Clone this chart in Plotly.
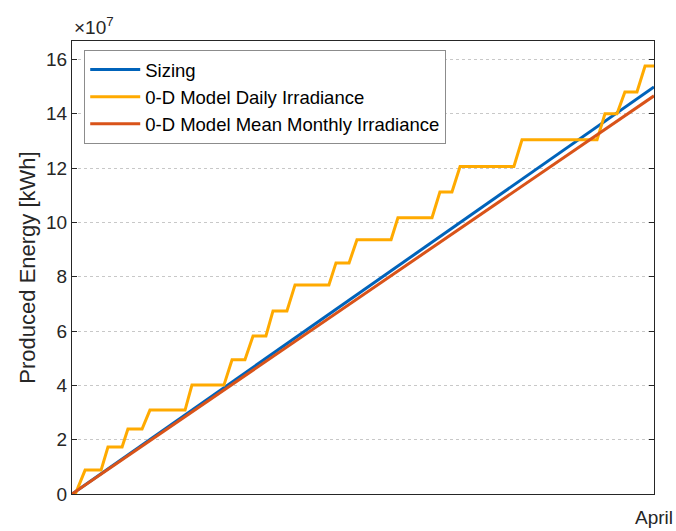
import plotly.graph_objects as go

# x in days across the month shown; y in units of 1e7 kWh
sizing_x = [0, 28]
sizing_y = [0, 14.99]

monthly_x = [0, 28]
monthly_y = [0, 14.66]

daily_x = [0, 0.19, 0.63, 1.40, 1.73, 2.41, 2.69, 3.37, 3.75, 5.44, 5.77, 7.31, 7.70,
           8.32, 8.71, 9.33, 9.67, 10.34, 10.73, 12.36, 12.70, 13.33, 13.71, 15.35,
           15.68, 17.32, 17.70, 18.28, 18.67, 21.26, 21.65, 25.26, 25.64, 26.22,
           26.60, 27.18, 27.57, 28.0]
daily_y = [0, 0.05, 0.88, 0.88, 1.73, 1.73, 2.39, 2.39, 3.09, 3.09, 4.01, 4.01, 4.94,
           4.94, 5.82, 5.82, 6.74, 6.74, 7.70, 7.70, 8.51, 8.51, 9.36, 9.36,
           10.17, 10.17, 11.12, 11.12, 12.06, 12.06, 13.04, 13.04, 14.0, 14.0,
           14.8, 14.8, 15.76, 15.76]

y_ticks = [0, 2, 4, 6, 8, 10, 12, 14, 16]
x_tick_vals = [28]
x_tick_text = ["April"]

FONT = "Liberation Sans, Arial, sans-serif"

fig = go.Figure()
fig.add_trace(go.Scatter(x=sizing_x, y=sizing_y, mode="lines", name="Sizing",
                         line=dict(color="#0063BA", width=3)))
fig.add_trace(go.Scatter(x=daily_x, y=daily_y, mode="lines", name="0-D Model Daily Irradiance",
                         line=dict(color="#FFAA00", width=3)))
fig.add_trace(go.Scatter(x=monthly_x, y=monthly_y, mode="lines", name="0-D Model Mean Monthly Irradiance",
                         line=dict(color="#D95319", width=3)))

fig.update_layout(
    width=676, height=531,
    margin=dict(l=72, r=22, t=41, b=37, autoexpand=False),
    paper_bgcolor="white", plot_bgcolor="white",
    font=dict(family=FONT, size=19, color="#262626"),
    showlegend=True,
    legend=dict(x=0.021, y=0.98, xanchor="left", yanchor="top",
                bgcolor="white", bordercolor="#8c8c8c", borderwidth=1,
                font=dict(size=18.5, color="#000000"), tracegroupgap=0,
                itemwidth=50),
    xaxis=dict(range=[0, 28], tickvals=x_tick_vals, ticktext=x_tick_text,
               ticks="inside", ticklen=5, tickcolor="#262626", automargin=False,
               ticklabelstandoff=6,
               showline=True, linecolor="#262626", linewidth=1, mirror="ticks",
               showgrid=False, zeroline=False, tickfont=dict(size=19)),
    yaxis=dict(range=[0, 16.68], tickvals=y_ticks, ticktext=[str(v) for v in y_ticks],
               ticks="inside", ticklen=5, tickcolor="#262626", automargin=False,
               showline=True, linecolor="#262626", linewidth=1, mirror="ticks",
               showgrid=True, gridcolor="#c8c8c8", griddash="dot", gridwidth=1,
               zeroline=False, tickfont=dict(size=19),
               title=dict(text="Produced Energy [kWh]", font=dict(size=22), standoff=4)),
    annotations=[dict(text="×10<sup>7</sup>", x=0, y=1, xref="paper", yref="paper",
                      xanchor="left", yanchor="bottom", showarrow=False,
                      xshift=0, yshift=1, font=dict(size=19, color="#262626"))],
)

fig.write_html("out.html")
